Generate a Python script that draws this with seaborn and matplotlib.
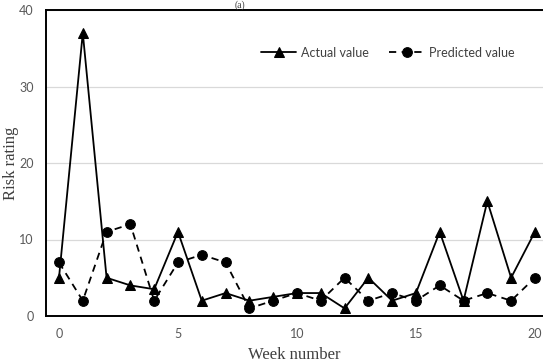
import numpy as np
import pandas as pd
import matplotlib
matplotlib.use("Agg")
import matplotlib.pyplot as plt
import seaborn as sns

weeks = list(range(21))
actual = [5, 37, 5, 4, 3.5, 11, 2, 3, 2, 2.5, 3, 3, 1, 5, 2, 3, 11, 2, 15, 5, 11]
predicted = [7, 2, 11, 12, 2, 7, 8, 7, 1, 2, 3, 2, 5, 2, 3, 2, 4, 2, 3, 2, 5]
x_ticks = [0, 5, 10, 15, 20]
y_ticks = [0, 10, 20, 30, 40]

sns.set_theme(style="white")
plt.rcParams['font.family'] = ['Lato', 'DejaVu Sans']

fig = plt.figure(figsize=(5.43, 3.62), dpi=100)
ax = fig.add_axes([46 / 543, 1 - 316 / 362, 1 - 46 / 543, (316 - 10) / 362])

df = pd.DataFrame({"week": weeks, "Actual value": actual, "Predicted value": predicted})

sns.lineplot(data=df, x="week", y="Actual value", ax=ax, color="black", lw=1.3,
             marker="^", markersize=7, markeredgecolor="black", label="Actual value")
sns.lineplot(data=df, x="week", y="Predicted value", ax=ax, color="black", lw=1.3,
             linestyle=(0, (4, 3)), marker="o", markersize=7, markeredgecolor="black",
             label="Predicted value")

ax.set_xlim(-0.546, 20.34)
ax.set_ylim(0, 40)
ax.set_xticks(x_ticks)
ax.set_yticks(y_ticks)
ax.yaxis.grid(True, color="#d9d9d9", lw=0.9)
ax.set_axisbelow(True)
ax.tick_params(axis="both", length=0, labelsize=9, labelcolor="#595959", pad=9)

for s in ["left", "bottom", "top"]:
    ax.spines[s].set_color("black")
    ax.spines[s].set_linewidth(1.4)
ax.spines["right"].set_visible(False)

ax.set_xlabel("Week number", family="Liberation Serif", fontsize=12, color="#404040", labelpad=5)
ax.set_ylabel("Risk rating", family="Liberation Serif", fontsize=12, color="#404040", labelpad=0)

leg = ax.legend(loc="center right", bbox_to_anchor=(0.966, 0.86), ncol=2, frameon=False,
                fontsize=9, handlelength=2.8, columnspacing=1.6, handletextpad=0.4)
for t in leg.get_texts():
    t.set_color("#404040")

fig.text(0.442, 0.999, "(a)", family="Liberation Serif", fontsize=7, color="#404040",
         ha="center", va="top")

fig.savefig("out.png", dpi=100)
